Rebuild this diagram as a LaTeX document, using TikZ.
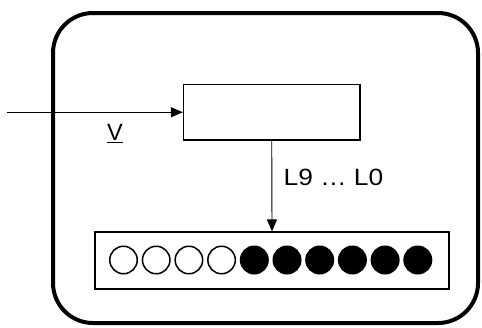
\documentclass[tikz,border=0pt]{standalone}
\usepackage{fontspec}
\setmainfont{Liberation Sans}
\usetikzlibrary{arrows.meta}
\begin{document}
\begin{tikzpicture}[x=1pt,y=-1pt,
  frame/.style={draw,line width=4pt,rounded corners=40pt},
  blockbox/.style={draw,line width=1.2pt,minimum width=176.5pt,minimum height=55.5pt,inner sep=0pt},
  barbox/.style={draw,line width=1.2pt,minimum width=354pt,minimum height=57pt,inner sep=0pt},
  wire/.style={line width=0.9pt,-{Triangle[length=12pt,width=10pt]}},
  led/.style={circle,draw,line width=1.5pt,minimum size=27.5pt,inner sep=0pt},
  ledon/.style={led,fill=black},
  lbl/.style={font=\fontsize{23.5}{27}\selectfont,inner sep=0pt},
  widelbl/.style={font=\fontsize{23.5}{27}\selectfont\addfontfeature{FakeStretch=1.12},inner sep=0pt}]
\useasboundingbox (0,0) rectangle (482,327);
\draw[frame] (53,13) rectangle (478,323);
\node[blockbox] (ctrl) at (271.75,112.25) {};
\node[barbox] (bar) at (272,260.5) {};
\coordinate (in) at (7,112.25);
\draw[wire] (in) -- (ctrl.west);
\draw[wire] (ctrl.south) -- (bar.north);
\node[lbl,anchor=base west] (v) at (107,140.5) {\underline{V}};
\node[widelbl,anchor=base west] (bus) at (283.5,185) {L9 … L0};
\foreach \i in {0,...,3}
  \node[led] (l\i) at (123.5+32.7*\i,260) {};
\foreach \i in {4,...,9}
  \node[ledon] (l\i) at (123.5+32.7*\i,260) {};
\end{tikzpicture}
\end{document}
